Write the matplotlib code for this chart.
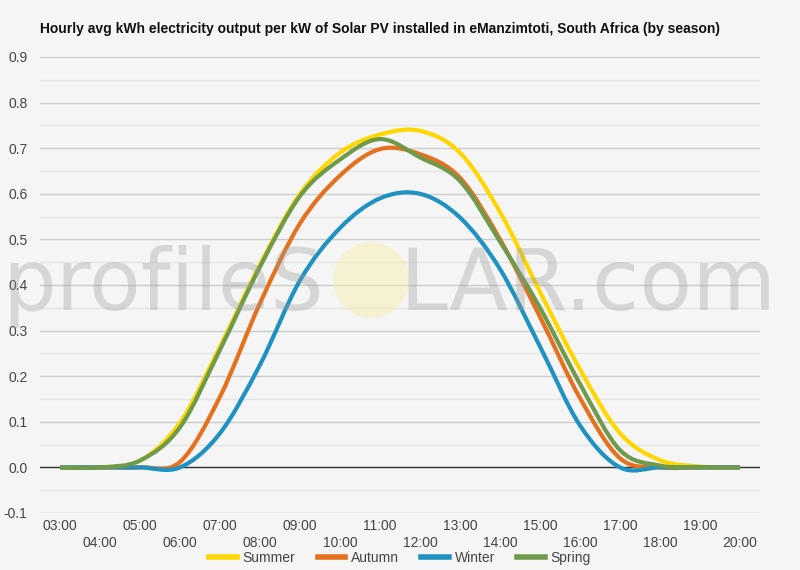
import numpy as np
import matplotlib
matplotlib.use('Agg')
import matplotlib.pyplot as plt
from matplotlib.path import Path
from matplotlib.patches import PathPatch, Ellipse
from matplotlib.lines import Line2D

plt.rcParams['font.family'] = ['Liberation Sans', 'DejaVu Sans']

# %% data (hourly averages, kWh per kW)
hours = ['03:00', '04:00', '05:00', '06:00', '07:00', '08:00', '09:00', '10:00', '11:00',
         '12:00', '13:00', '14:00', '15:00', '16:00', '17:00', '18:00', '19:00', '20:00']
summer = [0, 0, 0.015, 0.098, 0.265, 0.445, 0.600, 0.690, 0.730, 0.738, 0.690, 0.560,
          0.385, 0.215, 0.075, 0.016, 0.002, 0]
autumn = [0, 0, 0, 0.012, 0.155, 0.360, 0.535, 0.640, 0.698, 0.687, 0.635, 0.500,
          0.330, 0.152, 0.020, 0, 0, 0]
winter = [0, 0, 0, 0, 0.075, 0.225, 0.410, 0.525, 0.590, 0.600, 0.548, 0.435,
          0.265, 0.092, 0, 0, 0, 0]
spring = [0, 0, 0.015, 0.088, 0.258, 0.440, 0.595, 0.675, 0.720, 0.680, 0.628, 0.495,
          0.350, 0.183, 0.038, 0.004, 0, 0]

seasons = ['Summer', 'Autumn', 'Winter', 'Spring']
colors = ['#ffd700', '#e5711e', '#1f92c1', '#6f9a4c']
title = 'Hourly avg kWh electricity output per kW of Solar PV installed in eManzimtoti, South Africa (by season)'

bg = '#f5f5f5'


def smooth_path(vals):
    # catmull-rom style bezier through the hourly points (rendering only)
    pts = np.column_stack([np.arange(len(vals), dtype=float), np.asarray(vals, dtype=float)])
    n = len(pts)
    verts = [pts[0]]
    codes = [Path.MOVETO]
    for i in range(n - 1):
        p0 = pts[max(i - 1, 0)]
        p1 = pts[i]
        p2 = pts[i + 1]
        p3 = pts[min(i + 2, n - 1)]
        verts += [p1 + (p2 - p0) / 6, p2 - (p3 - p1) / 6, p2]
        codes += [Path.CURVE4] * 3
    return Path(verts, codes)


fig = plt.figure(figsize=(8, 5.7), dpi=100, facecolor=bg)
ax = fig.add_axes([0.05, 0.1, 0.9, 0.8], facecolor=bg)

for name, vals, c in zip(seasons, [summer, autumn, winter, spring], colors):
    ax.add_patch(PathPatch(smooth_path(vals), facecolor='none', edgecolor=c,
                           linewidth=3.0, capstyle='butt', zorder=3))

ax.set_xlim(-0.5, len(hours) - 0.5)
ax.set_ylim(-0.1, 0.9)

ax.set_yticks(np.round(np.arange(-0.1, 0.91, 0.1), 1))
ax.set_yticklabels(['%.1f' % v for v in np.arange(-0.1, 0.91, 0.1)])
ax.set_yticks(np.round(np.arange(-0.05, 0.9, 0.1), 2), minor=True)
ax.grid(axis='y', which='major', color='#cccccc', linewidth=1.0, zorder=0)
ax.grid(axis='y', which='minor', color='#e4e4e4', linewidth=1.0, zorder=0)
ax.axhline(0, color='#333333', linewidth=1.0, zorder=2)

ax.set_xticks(range(len(hours)))
ax.set_xticklabels([h if i % 2 == 0 else '\n' + h for i, h in enumerate(hours)],
                   linespacing=1.3)
ax.tick_params(axis='x', length=0, pad=4, labelsize=10, labelcolor='#444444')
ax.tick_params(axis='y', which='both', length=0, pad=9, labelsize=10, labelcolor='#444444')
for s in ax.spines.values():
    s.set_visible(False)

fig.text(0.05, 1 - 29 / 570, title, fontsize=10, fontweight='bold', va='center', color='#111111')

# watermark
fig.add_artist(Ellipse((371 / 800, 1 - 280 / 570), 76 / 800, 76 / 570,
                       facecolor='#f5eeb0', edgecolor='none', alpha=0.5, zorder=5))
fig.text(2 / 800, 1 - 310 / 570, 'profileS', family='DejaVu Sans', fontsize=61,
         color='#999999', alpha=0.33, va='baseline', ha='left', zorder=6)
fig.text(399 / 800, 1 - 310 / 570, 'LAR.com', family='DejaVu Sans', fontsize=62,
         color='#999999', alpha=0.33, va='baseline', ha='left', zorder=6)

handles = [Line2D([], [], color=c, linewidth=4) for c in colors]
fig.legend(handles, seasons, loc='center', bbox_to_anchor=(0.5, 1 - 558 / 570), ncol=4,
           frameon=False, fontsize=10, handlelength=2.0, handletextpad=0.4,
           columnspacing=1.6, labelcolor='#444444')

fig.savefig('out.png', dpi=100, facecolor=bg)
